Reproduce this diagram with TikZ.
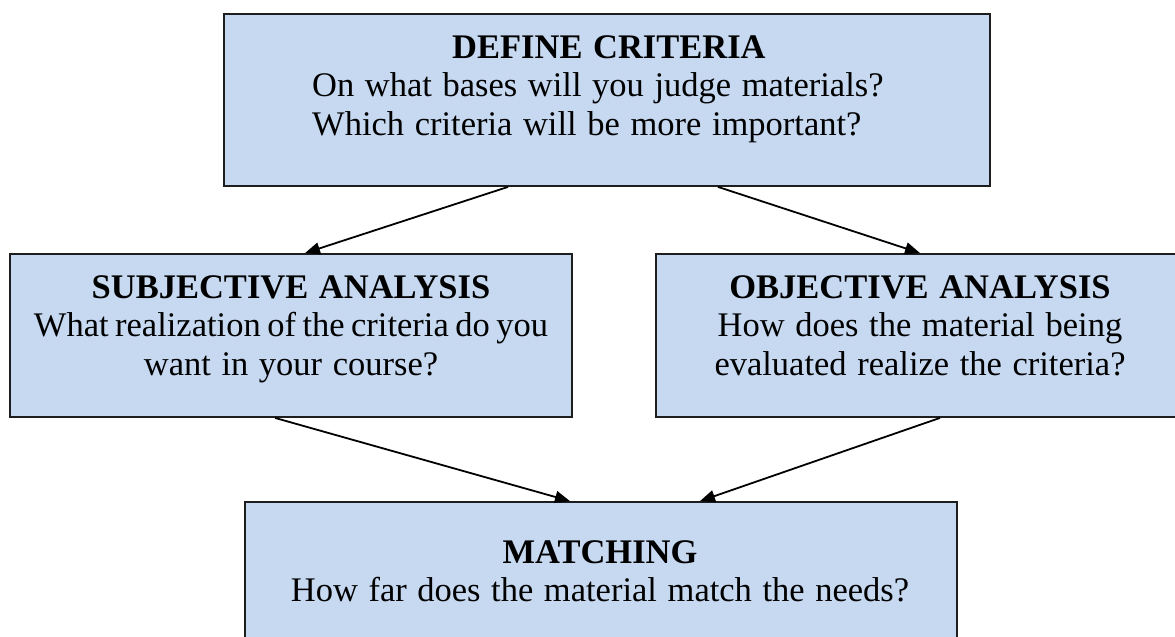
\documentclass[tikz,border=0pt]{standalone}
\usepackage{fontspec}
\setmainfont{Liberation Serif}
\usetikzlibrary{arrows.meta}
\definecolor{boxfill}{RGB}{198,217,241}
\definecolor{boxline}{RGB}{30,30,30}
\newcommand\myboxfont{\fontsize{34.5}{38.5}\selectfont\spaceskip=10.6pt plus 2pt minus 2pt\relax}
\newcommand\mytightspace{\spaceskip=6.5pt plus 1pt minus 1pt\relax}
\tikzset{
  box/.style={draw=boxline, line width=1.8pt, fill=boxfill, rectangle, inner sep=0pt},
  txt/.style={align=center, inner sep=0pt, anchor=north, font=\myboxfont},
  arr/.style={draw=black, line width=1.8pt, -{Triangle[length=15pt,width=12pt]}}
}
\begin{document}
\begin{tikzpicture}[x=1pt,y=-1pt]
\useasboundingbox (0,0) rectangle (1175,637);
\node[box, minimum width=766pt, minimum height=172pt] (def) at (607,100) {};
\node[box, minimum width=562pt, minimum height=163pt] (subj) at (291,335.5) {};
\node[box, minimum width=528pt, minimum height=163pt] (obj) at (920,335.5) {};
\node[box, minimum width=712pt, minimum height=180pt] (match) at (601,592) {};
\node[txt, align=left, anchor=north west] (deft) at (312,35) {\hspace*{140pt}\textbf{DEFINE CRITERIA}\\On what bases will you judge materials?\\Which criteria will be more important?};
\node[txt] (subjt) at (291,275) {\textbf{SUBJECTIVE ANALYSIS}\\{\mytightspace What realization of the criteria do you}\\want in your course?};
\node[txt] (objt) at (920,275) {\textbf{OBJECTIVE ANALYSIS}\\How does the material being\\evaluated realize the criteria?};
\node[txt] (matcht) at (600,540) {\textbf{MATCHING}\\How far does the material match the needs?};
\draw[arr] ([xshift=-99pt]def.south) -- ([xshift=14pt]subj.north);
\draw[arr] ([xshift=111pt]def.south) -- (obj.north);
\draw[arr] ([xshift=-16pt]subj.south) -- ([xshift=-31pt]match.north);
\draw[arr] ([xshift=20pt]obj.south) -- ([xshift=99pt]match.north);
\end{tikzpicture}
\end{document}
